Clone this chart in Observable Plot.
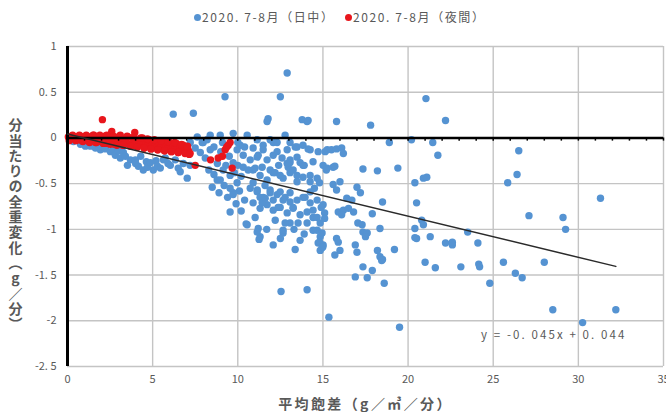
<!DOCTYPE html>
<html><head><meta charset="utf-8">
<script src="https://cdn.jsdelivr.net/npm/d3@7"></script>
<script src="https://cdn.jsdelivr.net/npm/@observablehq/plot@0.6"></script>
<style>
body{margin:0;background:#fff;font-family:"Noto Sans CJK JP",sans-serif;}
#legend{height:30px;position:relative;font-size:12px;letter-spacing:1.6px;color:#595959;width:666px;}
.item{position:absolute;top:8px;display:flex;align-items:center;white-space:nowrap;line-height:18px;}
.sw{width:7px;height:7px;border-radius:50%;display:inline-block;margin-right:1px;}
</style></head><body>
<div id="legend"></div><div id="chart"></div>
<script>
const seriesNames = ["2020. 7-8月（日中）", "2020. 7-8月（夜間）"];
const seriesColors = ["#5593d2", "#e8161c"];
const xTicks = [0, 5, 10, 15, 20, 25, 30, 35];
const yTicks = [1, 0.5, 0, -0.5, -1, -1.5, -2, -2.5];
const minorTicks = [0,1,2,3,4,5,6,7,8,9,10,11,12,13,14,15,16,17,18,19,20,21,22,23,24,25,26,27,28,29,30,31,32,33,34,35];
const xTitle = "平均飽差（g／㎥／分）";
const yTitle = "分当たりの全重変化（g／分）";
const eqLabel = "y = -0. 045x + 0. 044";
const slope = -0.045, intercept = 0.044;
const trendRange = [0, 32.2];

// 日中 (blue) [平均飽差, 全重変化]
const dayPoints = [
[0.35,-0.04],[0.5,-0.02],[0.76,-0.07],[0.9,-0.05],[1.05,-0.09],[1.2,-0.06],[1.35,-0.09],[1.64,-0.11],[1.8,-0.08],[1.93,-0.13],[2.0,-0.1],[2.23,-0.12],[2.52,-0.15],[2.7,-0.12],[2.81,-0.19],[3.0,-0.14],[3.1,-0.22],[3.28,-0.16],[3.4,-0.2],[3.52,-0.30],[3.69,-0.24],[3.99,-0.24],[4.0,-0.28],[4.16,-0.31],[4.3,-0.2],[4.45,-0.35],[4.63,-0.26],[4.7,-0.32],[4.87,-0.27],[5.04,-0.35],[5.2,-0.25],[5.28,-0.31],[5.45,-0.33],[5.63,-0.24],[5.74,-0.22],[5.9,-0.28],[6.04,-0.30],[6.33,-0.24],[6.5,-0.33],[6.62,-0.37],[6.8,-0.28],[7.03,-0.44],[7.2,-0.3],[6.21,0.26],[7.39,0.27],[7.62,0.01],[7.97,-0.05],[7.5,-0.11],[7.8,-0.16],[8.09,-0.22],[8.38,-0.13],[7.21,-0.05],
[8.6,-0.1],[8.8,-0.28],[9.0,-0.15],[9.3,-0.3],[9.5,-0.2],[9.8,-0.38],[10.0,-0.3],[10.2,-0.42],[8.3,-0.35],[8.6,-0.4],[9.2,-0.52],[10.1,-0.58],[10.4,-0.68],[10.2,-0.8],[9.9,-0.72],[8.9,-0.6],[9.4,-0.65],[10.0,-0.05],[10.4,-0.1],[9.1,-0.05],
[11.72,0.18],[14.07,0.18],[8.38,0.03],[8.97,0.03],[9.73,0.05],[10.55,0.03],[11.14,-0.02],[7.91,-0.05],[10.14,-0.08],[10.9,-0.11],[11.49,-0.08],[12.31,-0.05],[12.9,-0.13],[13.48,-0.10],[13.83,-0.08],[14.25,-0.13],[14.72,-0.15],[15.25,-0.13],
[10.32,-0.19],[10.73,-0.24],[11.2,-0.19],[11.72,-0.24],[12.08,-0.19],[12.6,-0.22],[13.07,-0.27],[13.48,-0.21],[13.83,-0.30],[14.42,-0.26],[15.01,-0.30],
[9.73,-0.27],[9.14,-0.35],[8.79,-0.46],[8.5,-0.54],[9.55,-0.41],[9.96,-0.49],[9.73,-0.60],
[10.9,-0.35],[11.31,-0.41],[11.72,-0.46],[12.08,-0.38],[12.66,-0.44],[13.07,-0.38],[13.48,-0.48],[13.83,-0.43],[14.25,-0.48],[14.66,-0.44],
[10.73,-0.55],[11.14,-0.59],[11.49,-0.65],[11.9,-0.57],[12.31,-0.62],[12.66,-0.68],[13.07,-0.60],[13.48,-0.68],[13.83,-0.65],[14.25,-0.59],[14.66,-0.68],[15.01,-0.73],
[10.9,-0.71],[11.31,-0.77],[11.72,-0.73],[12.08,-0.79],[12.49,-0.76],[12.9,-0.82],[13.25,-0.77],[13.66,-0.84],[14.07,-0.81],[14.42,-0.87],
[9.55,-0.81],[10.55,-0.95],[11.02,-0.87],[11.2,-0.99],[11.31,-1.08],[12.08,-1.17],[12.66,-1.04],[13.07,-0.93],[14.07,-0.93],[14.66,-1.01],[14.84,-1.08],[15.01,-1.17],[13.66,-1.12],
[9.25,0.45],[12.5,0.45],[12.9,0.71],[11.78,0.21],[13.78,0.20],[14.13,0.19],
[10.49,-0.94],[11.14,-1.03],[11.25,-1.11],[13.37,-1.22],[12.54,-1.68],[14.07,-1.66],
[12.78,-0.93],[12.66,-1.01],[13.54,-0.93],[14.42,-1.01],[14.72,-1.15],[14.84,-1.23],
[8.97,-0.46],[9.55,-0.55],[9.73,-0.62],[15.25,-0.33],[15.6,-0.32],
[8.2,-0.02],[11.9,-0.02],[12.08,-0.05],[12.78,0.03],[13.07,-0.05],[13.37,-0.10],[14.13,-0.12],[15.13,-0.15],
[9.96,-0.13],[11.14,-0.21],[11.49,-0.13],[12.31,-0.15],[13.07,-0.24],[13.66,-0.27],
[10.32,-0.32],[10.61,-0.35],[11.02,-0.33],[11.43,-0.32],[11.9,-0.35],[12.19,-0.38],[12.49,-0.41],[12.96,-0.32],[13.25,-0.35],[13.48,-0.41],[14.25,-0.41],
[10.9,-0.49],[11.14,-0.57],[11.31,-0.65],[11.43,-0.71],[11.61,-0.66],[11.9,-0.60],[12.08,-0.68],[12.37,-0.76],[12.49,-0.59],[12.78,-0.65],[13.07,-0.70],[13.25,-0.76],[13.95,-0.65],[14.25,-0.71],[14.42,-0.79],[14.66,-0.87],[14.84,-0.93],
[12.2,-0.9],[12.5,-1.1],[13.3,-1.0],[13.9,-1.05],[11.7,-1.0],[12.9,-0.28],[14.5,-0.55],[13.9,-0.3],[11.6,-0.52],[12.4,-0.3],
[21.05,0.43],[15.8,0.18],[17.8,0.14],[22.2,0.19],[18.9,-0.05],[20.2,-0.02],[21.45,-0.05],[21.75,-0.19],[15.5,-0.13],[15.8,-0.12],[16.1,-0.11],[16.2,-0.17],[15.2,-0.35],[15.7,-0.31],[17.35,-0.34],[18.2,-0.36],[19.4,-0.33],[14.8,-0.49],[15.6,-0.51],[16.0,-0.48],[15.8,-0.57],[17.0,-0.54],[17.2,-0.6],[20.4,-0.49],[20.9,-0.44],[21.1,-0.43],[16.4,-0.66],[16.7,-0.68],[18.5,-0.70],[20.5,-0.71],[14.9,-0.76],[15.1,-0.82],[15.1,-0.88],[15.9,-0.81],[16.2,-0.79],[16.1,-0.84],[16.5,-0.77],[16.8,-0.81],[17.9,-0.83],[20.8,-0.9],[20.9,-0.95],[17.05,-0.93],[17.3,-0.95],[18.35,-0.99],[17.35,-1.03],[17.6,-1.04],[17.5,-1.08],[14.95,-1.04],[14.8,-1.14],[14.95,-1.2],[15.0,-1.19],[15.8,-1.1],[15.9,-1.14],[16.0,-1.23],[15.7,-1.28],[16.9,-1.17],[17.0,-1.25],[18.2,-1.23],[18.35,-1.3],[18.5,-1.33],[18.45,-1.34],[19.2,-1.22],[20.5,-1.1],[21.3,-1.08],[22.2,-1.15],[22.6,-1.17],[22.6,-1.14],[21.0,-1.36],[21.6,-1.42],[17.35,-1.41],[17.9,-1.45],[16.9,-1.52],[17.6,-1.53],[18.6,-1.59],[15.35,-1.96],[19.5,-2.07],[20.4,-0.99],[20.4,-1.09],
[26.5,-0.14],[26.4,-0.40],[25.85,-0.49],[31.3,-0.66],[27.1,-0.85],[29.1,-0.87],[29.25,-1.0],[23.5,-1.03],[24.1,-1.15],[23.1,-1.41],[24.15,-1.38],[24.2,-1.41],[25.6,-1.36],[28.0,-1.36],[26.3,-1.48],[26.7,-1.53],[24.8,-1.59],[28.5,-1.88],[32.2,-1.88],[30.25,-2.02]
];

// 夜間 (red)
const nightPoints = [
[0.05,0.01],[0.15,-0.01],[0.25,0.02],[0.35,0.0],[0.45,-0.02],[0.55,0.01],[0.65,-0.01],[0.75,0.02],[0.85,-0.03],[0.95,0.0],[1.05,-0.02],[1.15,0.02],[1.25,-0.04],[1.35,0.0],[1.45,-0.02],[1.55,0.03],[1.65,-0.05],[1.75,-0.01],[1.85,0.01],[1.95,-0.04],[2.05,0.2],[2.1,-0.02],[2.2,0.02],[2.3,-0.06],[2.4,-0.01],[2.5,0.03],[2.6,0.07],[2.65,-0.04],[2.75,-0.07],[2.85,0.0],[2.95,-0.03],[3.05,0.02],[3.15,-0.06],[3.25,-0.08],[3.35,-0.01],[3.45,-0.04],[3.55,0.01],[3.65,-0.07],[3.75,-0.09],[3.85,-0.02],[3.95,0.06],[4.0,-0.05],[4.1,-0.1],[4.2,-0.03],[4.3,-0.07],[4.4,0.0],[4.5,-0.11],[4.6,-0.05],[4.7,-0.08],[4.8,-0.02],[4.9,-0.12],[5.0,-0.06],[5.1,-0.09],[5.2,-0.03],[5.3,-0.13],[5.4,-0.07],[5.5,-0.1],[5.6,-0.04],[5.7,-0.14],[5.8,-0.08],[5.9,-0.11],[6.0,-0.05],[6.1,-0.15],[6.2,-0.09],[6.3,-0.12],[6.4,-0.06],[6.5,-0.16],[6.6,-0.1],[6.7,-0.13],[6.8,-0.08],[6.9,-0.16],[7.0,-0.11],[7.1,-0.14],[7.15,-0.18],
[0.1,-0.03],[0.5,-0.03],[0.9,-0.04],[1.3,-0.05],[1.7,-0.05],[2.1,-0.06],[2.5,-0.07],[2.9,-0.08],[3.3,-0.08],[3.7,-0.09],[4.1,-0.1],[4.5,-0.11],[4.9,-0.12],[5.3,-0.13],[5.7,-0.14],[6.1,-0.15],[6.5,-0.16],[6.9,-0.17],[7.2,-0.17],
[0.3,0.03],[0.7,0.03],[1.1,0.03],[1.5,0.03],[1.9,0.03],[2.3,0.03],[2.7,0.02],[3.1,0.03],[3.5,0.02],[3.9,0.01],[4.3,0.0],[4.7,-0.01],[5.1,-0.02],[5.5,-0.03],[5.9,-0.04],[6.3,-0.05],[6.7,-0.07],[7.05,-0.09],
[7.5,-0.3],[8.4,-0.24],[8.85,-0.22],[9.26,-0.13],[9.44,-0.08],[9.55,-0.05],[9.67,-0.33],[9.1,-0.2],[9.35,-0.1]
];

const font = '"Noto Sans CJK JP", sans-serif';
const legend = document.getElementById("legend");
const legendX = [194, 345];
seriesNames.forEach((name, i) => {
  const it = document.createElement("div");
  it.className = "item";
  it.style.left = legendX[i] + "px";
  it.innerHTML = `<span class="sw" style="background:${seriesColors[i]}"></span><span>${name}</span>`;
  legend.appendChild(it);
});

const trend = trendRange.map(x => ({x, y: slope * x + intercept}));
const fmt = d => String(d).replace(".", ". ");

const chart = Plot.plot({
  width: 666, height: 382,
  marginTop: 16, marginBottom: 46, marginLeft: 67, marginRight: 3,
  style: {fontFamily: font, fontSize: "11px", color: "#595959", background: "#fff", overflow: "visible"},
  x: {domain: [0, 35]},
  y: {domain: [-2.5, 1]},
  marks: [
    Plot.gridX(xTicks, {stroke: "#c4c4c4", strokeOpacity: 1, strokeWidth: 1.4}),
    Plot.gridY(yTicks, {stroke: "#c4c4c4", strokeOpacity: 1, strokeWidth: 1.4}),
    Plot.axisX(xTicks, {anchor: "bottom", tickSize: 0, tickPadding: 9, tickFormat: d => String(d), label: null, fill: "#595959"}),
    Plot.axisY(yTicks, {anchor: "left", tickSize: 0, tickPadding: 11, tickFormat: fmt, label: null, fill: "#595959"}),
    Plot.dot(dayPoints, {x: d => d[0], y: d => d[1], r: 3.7, fill: seriesColors[0], stroke: "none"}),
    Plot.dot(nightPoints, {x: d => d[0], y: d => d[1], r: 3.7, fill: seriesColors[1], stroke: "none"}),
    Plot.ruleY([0], {stroke: "#000", strokeWidth: 2.5}),
    Plot.ruleX(minorTicks, {x: d => d, y1: 0, y2: -0.035, stroke: "#000", strokeWidth: 1.5}),
    Plot.ruleX([0], {stroke: "#000", strokeWidth: 3}),
    Plot.line(trend, {x: "x", y: "y", stroke: "#2a2a2a", strokeWidth: 1.5}),
    Plot.text([eqLabel], {frameAnchor: "bottom-right", textAnchor: "end", lineAnchor: "middle", dx: -37, dy: -31, fontSize: 11.5, fill: "#595959"}),
    Plot.text([yTitle], {frameAnchor: "left", textAnchor: "middle", dx: -52, dy: 14, fontSize: 14, fontWeight: "bold", fill: "#595959"}),
    Plot.text([xTitle], {frameAnchor: "bottom", textAnchor: "middle", lineAnchor: "middle", dy: 38, fontSize: 14, fontWeight: "bold", fill: "#595959"})
  ]
});
const svg = d3.select(chart);
svg.selectAll("text").filter(function() { return this.textContent === yTitle; })
  .style("writing-mode", "vertical-rl").style("text-orientation", "upright")
  .style("letter-spacing", "1.3px").attr("dy", null);
svg.selectAll("text").filter(function() { return this.textContent === xTitle; })
  .style("letter-spacing", "2.4px");
svg.selectAll("text").filter(function() { return this.textContent === eqLabel; })
  .style("letter-spacing", "2.1px");
document.getElementById("chart").appendChild(chart);
</script></body></html>
